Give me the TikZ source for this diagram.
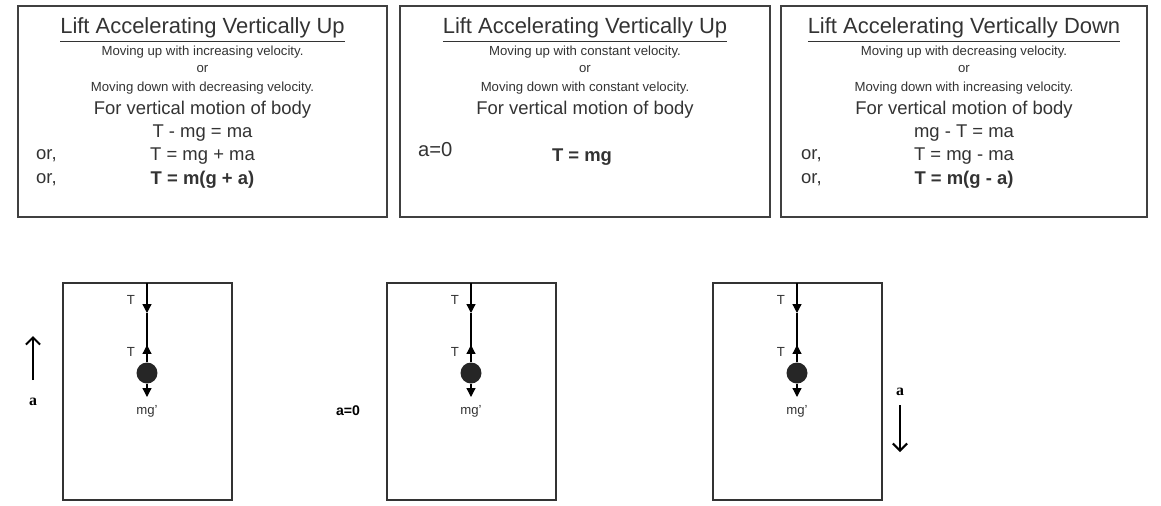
\documentclass[tikz,border=0pt]{standalone}
\usepackage{fontspec}
\setmainfont{Liberation Sans}
\newfontfamily\serifbold{Liberation Serif}
\usepackage{tikz}
\usetikzlibrary{arrows.meta}

\begin{document}
\begin{tikzpicture}[x=0.02cm,y=-0.02cm,
    panel/.style={draw=black!75,line width=0.8pt},
    title/.style={font=\fontsize{12.5}{14}\selectfont,text=black!80},
    small/.style={font=\fontsize{7.5}{9}\selectfont,text=black!80},
    mid/.style={font=\fontsize{10.5}{12}\selectfont,text=black!80},
    lift/.style={draw=black!80,line width=0.7pt},
    force/.style={-{Triangle[length=5pt,width=5pt]},line width=0.7pt},
    lbl/.style={font=\fontsize{7.5}{9}\selectfont,text=black!80}]

    \useasboundingbox (0,0) rectangle (1161,505);

    %==================== Top boxes ====================
    \foreach \name/\xa/\xb in {b1/18/387,b2/400/770,b3/781/1147} {
      \draw[panel] (\xa,6) rectangle (\xb,217);
    }

    % Box 1
    \node[title] (t1) at (202.5,30) {\underline{Lift Accelerating Vertically Up}};
    \node[small] (s1a) at (202.5,52) {Moving up with increasing velocity.};
    \node[small] (s1b) at (202.5,69) {or};
    \node[small] (s1c) at (202.5,88) {Moving down with decreasing velocity.};
    \node[mid] (m1) at (202.5,110) {For vertical motion of body};
    \node[mid] (e1a) at (202.5,133) {T - mg = ma};
    \node[mid] (e1b) at (202.5,156) {T = mg + ma};
    \node[mid] (e1c) at (202.5,180) {\textbf{T = m(g + a)}};
    \node[mid,anchor=west] (o1a) at (30,156) {or,};
    \node[mid,anchor=west] (o1b) at (30,180) {or,};

    % Box 2
    \node[title] (t2) at (585,30) {\underline{Lift Accelerating Vertically Up}};
    \node[small] (s2a) at (585,52) {Moving up with constant velocity.};
    \node[small] (s2b) at (585,69) {or};
    \node[small] (s2c) at (585,88) {Moving down with constant velocity.};
    \node[mid] (m2) at (585,110) {For vertical motion of body};
    \node[font=\fontsize{11.5}{13}\selectfont,text=black!80,anchor=west] (a0) at (412,150) {a=0};
    \node[mid] (e2) at (582,157) {\textbf{T = mg}};

    % Box 3
    \node[title] (t3) at (964,30) {\underline{Lift Accelerating Vertically Down}};
    \node[small] (s3a) at (964,52) {Moving up with decreasing velocity.};
    \node[small] (s3b) at (964,69) {or};
    \node[small] (s3c) at (964,88) {Moving down with increasing velocity.};
    \node[mid] (m3) at (964,110) {For vertical motion of body};
    \node[mid] (e3a) at (964,133) {mg - T = ma};
    \node[mid] (e3b) at (964,156) {T = mg - ma};
    \node[mid] (e3c) at (964,180) {\textbf{T = m(g - a)}};
    \node[mid,anchor=west] (o3a) at (795,156) {or,};
    \node[mid,anchor=west] (o3b) at (795,180) {or,};

    %==================== Lifts ====================
    \foreach \i/\xa in {1/63,2/387,3/713} {
      \pgfmathsetmacro\xr{\xa+84}
      \draw[lift] (\xa,283) rectangle (\xa+169,500);
      \coordinate (top\i) at (\xr,283);
      \coordinate (tup\i) at (\xr,313);
      \coordinate (tlo\i) at (\xr,345);
      \coordinate (w\i) at (\xr,397);
      \node[circle,fill=black!85,inner sep=0pt,minimum size=0.42cm] (ball\i) at (\xr,373) {};
      \draw[force] (top\i) -- (tup\i);
      \draw[line width=0.7pt] (tup\i) -- (ball\i);
      \draw[force] (ball\i.north) -- (tlo\i);
      \draw[force] (ball\i.south) -- (w\i);
      \node[lbl] (T\i a) at (\xr-16,300) {T};
      \node[lbl] (T\i b) at (\xr-16,352) {T};
      \node[lbl] (mg\i) at (\xr,411) {mg'};
    }

    % Acceleration markers
    \coordinate (au1) at (33,380);
    \coordinate (au2) at (33,336);
    \draw[-{Straight Barb[length=4pt]},line width=1.2pt] (au1) -- (au2);
    \node[font=\serifbold\bfseries\small] (acc1) at (33,402) {a};
    \node[font=\bfseries\fontsize{8}{10}\selectfont] (acc2) at (348,411) {a=0};
    \node[font=\serifbold\bfseries\small] (acc3) at (900,392) {a};
    \coordinate (ad1) at (900,405);
    \coordinate (ad2) at (900,452);
    \draw[-{Straight Barb[length=4pt]},line width=1.2pt] (ad1) -- (ad2);

  \end{tikzpicture}
\end{document}
